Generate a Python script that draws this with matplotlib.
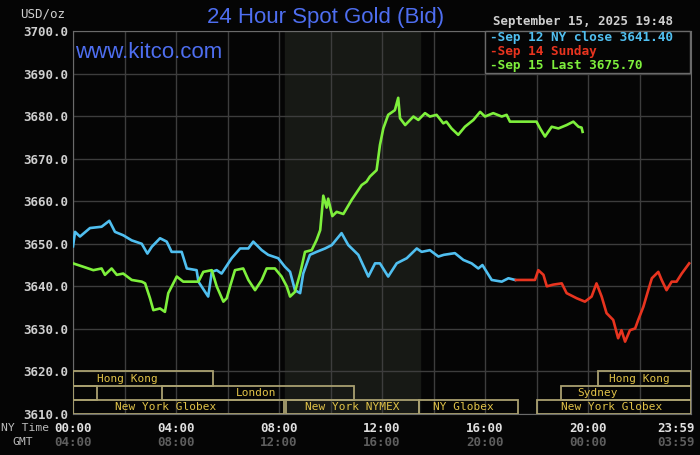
#!/usr/bin/env python3

import matplotlib
matplotlib.use("Agg")
from matplotlib import pyplot as plt
from matplotlib import transforms
from matplotlib.patches import Rectangle

# hours since 00:00 NY time, bid price in USD/oz
sep12_hours = [0.0, 0.08, 0.27, 0.66, 1.11, 1.41, 1.63, 1.95, 2.28, 2.67, 2.89, 3.06,
               3.38, 3.64, 3.83, 4.22, 4.42, 4.8, 4.87, 5.25, 5.39, 5.58, 5.77, 6.03,
               6.16, 6.49, 6.81, 7.0, 7.33, 7.58, 7.97, 8.23, 8.43, 8.62, 8.82, 8.94,
               9.2, 9.46, 9.79, 10.05, 10.43, 10.69, 11.08, 11.47, 11.73, 11.92, 12.24,
               12.57, 12.96, 13.35, 13.54, 13.86, 14.19, 14.4, 14.83, 15.16, 15.48,
               15.74, 15.9, 16.26, 16.65, 16.91, 17.17]
sep12_price = [3649.4, 3652.8, 3651.7, 3653.7, 3654.0, 3655.4, 3652.8, 3652.0, 3650.8,
               3650.0, 3647.7, 3649.3, 3651.3, 3650.5, 3648.1, 3648.1, 3644.2, 3643.8,
               3641.1, 3637.6, 3643.4, 3643.8, 3643.0, 3645.4, 3646.6, 3648.9, 3648.9,
               3650.5, 3648.5, 3647.4, 3646.6, 3644.6, 3643.4, 3639.1, 3638.4, 3643.0,
               3647.4, 3648.1, 3648.9, 3649.7, 3652.5, 3649.7, 3647.4, 3642.3, 3645.4,
               3645.4, 3642.3, 3645.4, 3646.6, 3648.9, 3648.1, 3648.5, 3647.0, 3647.4,
               3647.8, 3646.2, 3645.4, 3644.2, 3645.0, 3641.5, 3641.1, 3641.9, 3641.5]

sep14_hours = [17.2, 17.94, 18.07, 18.27, 18.4, 18.65, 18.98, 19.17, 19.56, 19.88, 20.14,
               20.33, 20.53, 20.72, 20.98, 21.17, 21.3, 21.44, 21.63, 21.83, 21.95,
               22.15, 22.34, 22.48, 22.73, 22.86, 23.05, 23.25, 23.44, 23.64, 23.93]
sep14_price = [3641.5, 3641.5, 3643.8, 3642.7, 3640.0, 3640.4, 3640.7, 3638.4, 3637.2,
               3636.4, 3637.6, 3640.7, 3637.6, 3633.7, 3632.1, 3627.8, 3629.7, 3627.0,
               3629.7, 3630.1, 3632.1, 3635.2, 3639.1, 3641.9, 3643.4, 3641.5, 3639.1,
               3641.1, 3641.1, 3643.0, 3645.4]

sep15_hours = [0.0, 0.4, 0.79, 1.11, 1.24, 1.5, 1.7, 1.95, 2.28, 2.67, 2.8, 2.99, 3.12,
               3.38, 3.57, 3.7, 4.03, 4.28, 4.87, 5.06, 5.39, 5.58, 5.84, 5.97, 6.1,
               6.29, 6.61, 6.81, 7.07, 7.33, 7.52, 7.84, 8.1, 8.3, 8.43, 8.62, 8.82,
               9.01, 9.27, 9.46, 9.6, 9.66, 9.72, 9.85, 9.91, 10.07, 10.24, 10.5, 10.82,
               11.21, 11.4, 11.53, 11.79, 11.92, 12.05, 12.24, 12.5, 12.63, 12.7, 12.9,
               13.22, 13.41, 13.67, 13.86, 14.12, 14.38, 14.5, 14.7, 14.96, 15.22,
               15.55, 15.81, 16.0, 16.32, 16.65, 16.84, 16.97, 18.0, 18.14, 18.33,
               18.59, 18.85, 19.17, 19.43, 19.63, 19.75, 19.79]
sep15_price = [3645.4, 3644.6, 3643.8, 3644.2, 3642.7, 3644.2, 3642.7, 3643.0, 3641.5,
               3641.1, 3640.7, 3637.2, 3634.4, 3634.8, 3634.0, 3638.4, 3642.3, 3641.1,
               3641.1, 3643.4, 3643.8, 3640.0, 3636.4, 3637.2, 3640.0, 3643.8, 3644.2,
               3641.5, 3639.1, 3641.5, 3644.2, 3644.2, 3642.3, 3640.0, 3637.6, 3638.7,
               3643.0, 3648.1, 3648.5, 3650.9, 3653.2, 3657.2, 3661.3, 3658.5, 3660.6,
               3656.5, 3657.5, 3657.0, 3660.3, 3663.8, 3664.6, 3665.8, 3667.3, 3673.2,
               3677.1, 3680.3, 3681.4, 3684.3, 3679.5, 3677.9, 3679.9, 3679.1, 3680.7,
               3679.9, 3680.3, 3678.3, 3678.7, 3677.1, 3675.6, 3677.5, 3679.1, 3681.0,
               3679.9, 3680.7, 3679.9, 3680.3, 3678.7, 3678.7, 3677.1, 3675.2, 3677.5,
               3677.1, 3677.9, 3678.7, 3677.5, 3677.3, 3676.3]

legend_labels = ["Sep 12 NY close 3641.40", "Sep 14 Sunday", "Sep 15 Last 3675.70"]
date_stamp = "September 15, 2025 19:48"

ny_ticks = [0, 4, 8, 12, 16, 20, 23.4]
ny_labels = ["00:00", "04:00", "08:00", "12:00", "16:00", "20:00", "23:59"]
gmt_labels = ["04:00", "08:00", "12:00", "16:00", "20:00", "00:00", "03:59"]
y_ticks = [3610, 3620, 3630, 3640, 3650, 3660, 3670, 3680, 3690, 3700]

# (row, start hour, end hour, label, label centre hour)
sessions = [(0, 0.0, 5.44, "Hong Kong", 2.1), (0, 20.4, 24.0, "Hong Kong", 22.0),
            (1, 0.0, 0.94, "", 0), (1, 3.45, 10.9, "London", 7.1),
            (1, 18.95, 24.0, "Sydney", 20.35),
            (2, 0.0, 8.2, "New York Globex", 3.6), (2, 8.28, 13.44, "New York NYMEX", 10.85),
            (2, 13.44, 17.3, "NY Globex", 15.15), (2, 18.0, 24.0, "New York Globex", 20.9)]
ny_open, ny_close = 8.23, 13.47

BG = "#050505"
BLUE = "#50bff0"
RED = "#e8341f"
GREEN = "#7ef03c"
GOLD = "#e0c248"
BOXLINE = "#a9a070"
MONO = "DejaVu Sans Mono"

fig = plt.figure(figsize=(7, 4.55), dpi=100, facecolor=BG)
ax = fig.add_axes([73 / 700, 1 - 414 / 455, 618 / 700, 383 / 455])
ax.set_facecolor(BG)
ax.set_xlim(0, 24)
ax.set_ylim(3610, 3700)

# market hours shade
ax.axvspan(ny_open, ny_close, color="#171915", zorder=0)

ax.set_xticks(range(0, 25, 2))
ax.set_yticks(y_ticks)
ax.grid(True, color="#3d3d3d", lw=1, zorder=1)
ax.tick_params(length=0, labelbottom=False)
ax.set_yticklabels(["%.1f" % v for v in y_ticks], family=MONO, fontweight="bold",
                   fontsize=9, color="#cfcfcf")
for s in ax.spines.values():
    s.set_color("#6a6a6a")

# session boxes along the bottom
row_h = 10 / 3.0
for row, x0, x1, name, xc in sessions:
    y0 = 3620 - (row + 1) * row_h
    ax.add_patch(Rectangle((x0, y0), x1 - x0, row_h, fill=False,
                           ec=BOXLINE, lw=1.3, zorder=3))
    if name:
        ax.text(xc, y0 + row_h / 2, name, family=MONO, fontsize=8,
                color=GOLD, ha="center", va="center", zorder=4)

ax.plot(sep12_hours, sep12_price, color=BLUE, lw=1.9, zorder=5)
ax.plot(sep14_hours, sep14_price, color=RED, lw=1.9, zorder=5)
ax.plot(sep15_hours, sep15_price, color=GREEN, lw=1.9, zorder=5)

# legend box
legend_box = Rectangle((485 / 700, 1 - 73 / 455), 205 / 700, 42 / 455,
                       transform=fig.transFigure, fc=BG, ec="#6a6a6a", lw=1,
                       zorder=6, clip_on=False)
ax.add_patch(legend_box)
for i, (lab, col) in enumerate(zip(legend_labels, [BLUE, RED, GREEN])):
    fig.text(490 / 700, 1 - (38 + 14 * i) / 455, "-" + lab, family=MONO,
             fontweight="bold", fontsize=9.2, color=col, va="center", zorder=7)

# x labels, two rows
trans = transforms.blended_transform_factory(ax.transData, fig.transFigure)
for h, a, b in zip(ny_ticks, ny_labels, gmt_labels):
    ax.text(h, 1 - 428 / 455, a, transform=trans, family=MONO, fontweight="bold",
            fontsize=9, color="#e0e0e0", ha="center", va="center", clip_on=False)
    ax.text(h, 1 - 442 / 455, b, transform=trans, family=MONO, fontweight="bold",
            fontsize=9, color="#5e5e5e", ha="center", va="center", clip_on=False)
fig.text(1 / 700, 1 - 428 / 455, "NY Time", family=MONO, fontsize=8.2,
         color="#bcbcbc", va="center")
fig.text(12 / 700, 1 - 442 / 455, "GMT", family=MONO, fontsize=8.2,
         color="#bcbcbc", va="center")

fig.text(20 / 700, 1 - 14 / 455, "USD/oz", family=MONO, fontsize=9,
         color="#cfcfcf", va="center")
fig.text(326 / 700, 1 - 17 / 455, "24 Hour Spot Gold (Bid)", family="Liberation Sans",
         fontsize=16, color="#4e6ef0", ha="center", va="center")
fig.text(75 / 700, 1 - 53 / 455, "www.kitco.com", family="Liberation Sans",
         fontsize=16, color="#4e6ef0", va="center")
fig.text(583 / 700, 1 - 22 / 455, date_stamp, family=MONO, fontweight="bold",
         fontsize=9, color="#cfcfcf", ha="center", va="center")

plt.savefig("out.png", dpi=100, facecolor=BG)
